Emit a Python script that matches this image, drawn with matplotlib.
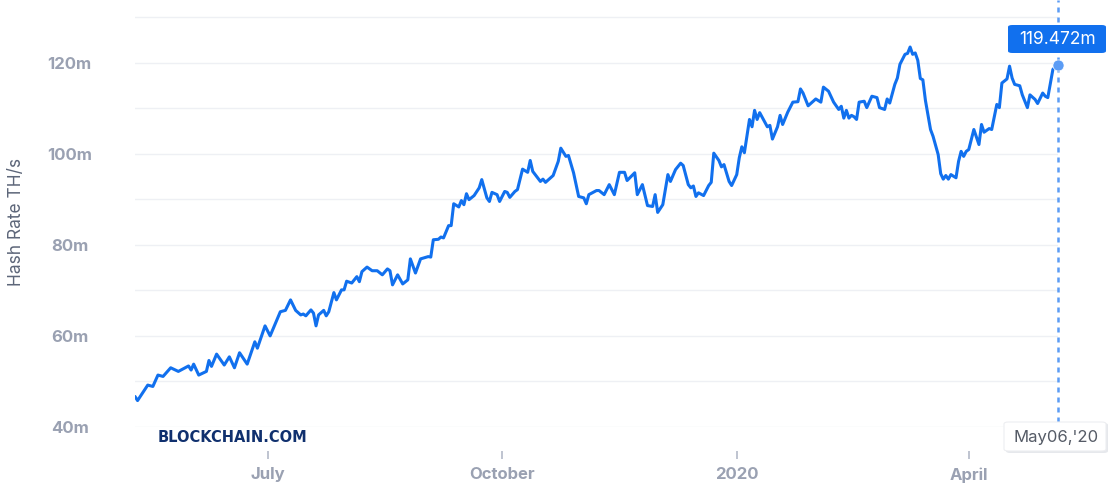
import matplotlib
matplotlib.use("Agg")
import matplotlib.pyplot as plt
import matplotlib.dates as mdates
from matplotlib.patches import FancyBboxPatch
import pandas as pd
import numpy as np

# ---- data (days relative to 2019-07-01, hash rate in millions TH/s) ----
days = [-52, -51, -49, -47, -45, -43, -41, -38, -35, -31, -30, -29, -27, -24, -23, -22,
        -20, -17, -15, -13, -11, -8, -5, -4, -1, 1, 5, 7, 9, 11, 13, 14, 15, 17, 18, 19,
        20, 22, 23, 24, 26, 27, 29, 30, 31, 33, 35, 36, 37, 39, 41, 43, 45, 47, 48, 49,
        51, 53, 55, 56, 58, 60, 63, 64, 65, 67, 68, 69, 71, 72, 73, 75, 76, 77, 78, 79,
        81, 83, 84, 86, 87, 88, 90, 91, 93, 94, 95, 97, 98, 100, 102, 103, 104, 107, 108,
        109, 112, 114, 115, 117, 118, 120, 122, 124, 125, 126, 129, 130, 132, 134, 136,
        138, 140, 141, 144, 145, 147, 149, 151, 152, 153, 155, 157, 158, 160, 162, 163,
        165, 166, 167, 168, 169, 171, 173, 174, 175, 177, 178, 179, 181, 182, 184, 185,
        186, 187, 188, 189, 190, 191, 192, 193, 195, 196, 197, 198, 200, 201, 202, 204,
        206, 208, 209, 210, 212, 214, 215, 217, 218, 220, 222, 223, 224, 225, 226, 227,
        228, 229, 230, 231, 232, 234, 235, 237, 239, 240, 242, 243, 244, 246, 247, 248,
        250, 251, 252, 253, 254, 255, 256, 257, 258, 260, 261, 263, 264, 265, 266, 267,
        268, 270, 271, 272, 273, 274, 275, 277, 279, 280, 281, 283, 284, 286, 287, 288,
        290, 291, 292, 293, 295, 296, 298, 299, 301, 302, 304, 305, 306, 308, 310]
hash_rate = [46.7, 45.8, 47.5, 49.2, 48.9, 51.4, 51.1, 53.0, 52.2, 53.4, 52.5, 53.8, 51.4,
             52.2, 54.6, 53.3, 56.0, 53.6, 55.4, 53.0, 56.3, 53.8, 58.7, 57.3, 62.2, 60.0,
             65.3, 65.6, 67.9, 65.6, 64.6, 64.8, 64.4, 65.7, 65.0, 62.2, 64.6, 65.6, 64.4,
             65.3, 69.5, 67.9, 70.1, 70.1, 72.0, 71.6, 73.0, 71.9, 74.1, 75.1, 74.3, 74.3,
             73.4, 74.7, 74.3, 71.2, 73.4, 71.4, 72.3, 76.9, 73.8, 76.9, 77.4, 77.3, 81.1,
             81.2, 81.7, 81.5, 84.2, 84.2, 89.0, 88.3, 89.7, 88.8, 91.2, 89.9, 90.8, 92.5,
             94.3, 90.3, 89.5, 91.5, 91.0, 89.5, 91.7, 91.5, 90.4, 91.7, 92.1, 96.6, 95.9,
             98.5, 96.1, 93.9, 94.4, 93.7, 95.2, 98.3, 101.2, 99.4, 99.6, 95.8, 90.6, 90.3,
             89.0, 91.0, 91.9, 91.9, 91.0, 93.2, 91.0, 95.9, 95.9, 94.1, 95.8, 91.0, 93.2,
             88.6, 88.4, 91.0, 87.1, 88.8, 95.4, 93.9, 96.5, 97.9, 97.4, 93.2, 92.5, 92.9,
             90.6, 91.4, 90.8, 93.0, 93.7, 100.1, 98.5, 97.1, 97.6, 93.9, 93.0, 95.4, 99.1,
             101.5, 100.2, 103.8, 107.5, 105.9, 109.5, 107.5, 109.0, 106.9, 105.9, 106.2,
             103.2, 105.9, 108.4, 106.4, 109.1, 111.3, 111.4, 114.2, 113.3, 110.5, 111.5,
             112.0, 111.3, 114.6, 113.7, 111.3, 110.5, 109.7, 110.4, 107.8, 109.5, 107.8,
             108.4, 108.1, 107.5, 111.3, 111.5, 110.1, 112.6, 112.3, 110.1, 109.7, 112.0,
             111.1, 115.2, 116.6, 119.6, 121.8, 122.0, 123.4, 121.8, 122.1, 120.5, 116.5,
             116.2, 111.7, 105.3, 103.8, 99.8, 95.6, 94.4, 95.2, 94.4, 95.4, 94.7, 98.3,
             100.5, 99.4, 100.5, 100.9, 105.3, 102.0, 106.4, 104.7, 105.5, 105.3, 110.8,
             110.1, 115.5, 116.4, 119.2, 116.6, 115.2, 114.9, 112.9, 110.1, 112.9, 111.9,
             111.0, 113.3, 112.6, 112.3, 118.5, 119.472]
base_date = "2019-07-01"
tick_dates = ["2019-07-01", "2019-10-01", "2020-01-01", "2020-04-01"]
tick_labels = ["July", "October", "2020", "April"]
y_major = [40, 60, 80, 100, 120]
y_grid = [40, 50, 60, 70, 80, 90, 100, 110, 120, 130]
hover_label = "May06,'20"
hover_value = "119.472m"

dates = pd.Timestamp(base_date) + pd.to_timedelta(days, unit="D")

W, H = 1116, 490
fig = plt.figure(figsize=(W / 100, H / 100), dpi=100)
fig.patch.set_facecolor("white")
ax = fig.add_axes([135 / W, 1 - 427 / H, (1058 - 135) / W, 427 / H])

line_color = "#1170EE"
ax.plot(dates, hash_rate, color=line_color, lw=2.2, solid_joinstyle="round",
        solid_capstyle="round", zorder=3)

ax.set_xlim(dates[0], dates[-1])
ax.set_ylim(40, 40 + 427 / 45.56 * 10)

for s in ax.spines.values():
    s.set_visible(False)
ax.spines["bottom"].set_position(("outward", 17))

for g in y_grid:
    ax.axhline(g, color="#eef0f4", lw=1.0, zorder=1)

tick_font = dict(family=["Inter", "DejaVu Sans"], size=12, weight="bold")
ax.set_yticks(y_major)
ax.set_yticklabels([f"{v}m" for v in y_major], ha="center", color="#9aa1b2",
                   fontdict=tick_font)
ax.tick_params(axis="y", length=0, pad=47)

ax.set_xticks([mdates.date2num(pd.Timestamp(d)) for d in tick_dates])
ax.set_xticklabels(tick_labels, color="#9aa1b2", fontdict=tick_font)
ax.tick_params(axis="x", length=6, width=1.2, color="#b4bac8", pad=6, direction="out")

fig.text(17 / W, 1 - 222 / H, "Hash Rate TH/s", rotation=90, ha="center", va="center",
         color="#5d6679", fontsize=12.5, family=["Inter", "DejaVu Sans"])

fig.text(158 / W, 1 - 437 / H, "BLOCKCHAIN.COM", ha="left", va="center",
         color="#10306e", fontsize=10.5, weight="heavy", family=["DejaVu Sans"])

# hover crosshair
xd = mdates.date2num(dates[-1])
ax.plot([xd, xd], [40 + (427 - 422) / 4.556, 40 + 427 / 4.556], color="#5b9cf5",
        lw=1.8, ls=(0, (2, 2)), clip_on=False, zorder=4)
ax.plot([xd], [hash_rate[-1]], "o", ms=8, color="#5b9cf5", mec="white", mew=0.5,
        zorder=5, clip_on=False)

# value tooltip
bx = FancyBboxPatch((1008 / W, 1 - 53 / H), 98 / W, 28 / H,
                    boxstyle="round,pad=0,rounding_size=0.004",
                    transform=fig.transFigure, facecolor="#1170EE", edgecolor="none")
fig.patches.append(bx)
fig.text(1057 / W, 1 - 39 / H, hover_value, ha="center", va="center", color="white",
         fontsize=12.5, family=["Inter", "DejaVu Sans"])

# date tooltip
sh = FancyBboxPatch((1006 / W, 1 - 453 / H), 102 / W, 30 / H,
                    boxstyle="round,pad=0,rounding_size=0.004",
                    transform=fig.transFigure, facecolor="#e6e8ec", edgecolor="none")
fig.patches.append(sh)
db = FancyBboxPatch((1004 / W, 1 - 451 / H), 102 / W, 29 / H,
                    boxstyle="round,pad=0,rounding_size=0.004",
                    transform=fig.transFigure, facecolor="white", edgecolor="#edeef1",
                    lw=0.8)
fig.patches.append(db)
fig.text(1056 / W, 1 - 437 / H, hover_label, ha="center", va="center", color="#555b66",
         fontsize=12, family=["Inter", "DejaVu Sans"])

fig.savefig("out.png", dpi=100, facecolor="white")
